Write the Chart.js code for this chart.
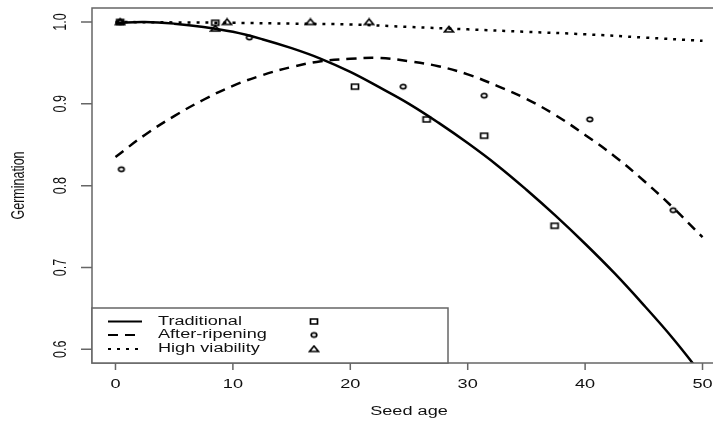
<!DOCTYPE html>
<html lang="en">
<head>
    <meta charset="UTF-8">
    <title>Germination vs seed age</title>
    <script src="https://cdn.jsdelivr.net/npm/chart.js"></script>
    <style>
        html, body {
            margin: 0;
            padding: 0;
            background: #ffffff;
            overflow: hidden;
        }
        #wrap {
            width: 740px;
            height: 421px;
        }
    </style>
</head>
<body>
    <div id="wrap"><canvas id="germChart" width="740" height="421"></canvas></div>

    <script>
        // fitted curves
        var curveAge = [0, 2.5, 5, 7.5, 10, 12.5, 15, 17.5, 20, 22.5, 25, 27.5, 30, 32.5, 35, 37.5, 40, 42.5, 45, 47.5, 50];
        var traditionalFit = [0.999, 1.000, 0.998, 0.994, 0.988, 0.979, 0.968, 0.955, 0.939, 0.920, 0.900, 0.877, 0.852, 0.825, 0.795, 0.763, 0.729, 0.693, 0.654, 0.613, 0.568];
        var afterRipeningFit = [0.835, 0.862, 0.885, 0.905, 0.922, 0.935, 0.945, 0.952, 0.955, 0.956, 0.952, 0.946, 0.936, 0.922, 0.906, 0.886, 0.862, 0.836, 0.806, 0.773, 0.737];
        var viabilityAge = [0, 5, 10, 15, 20, 25, 30, 35, 40, 45, 50];
        var highViabilityFit = [1.000, 0.9995, 0.999, 0.998, 0.997, 0.994, 0.991, 0.988, 0.985, 0.981, 0.977];

        // observed points
        var traditionalAge = [0.4, 8.5, 20.4, 26.5, 31.4, 37.4];
        var traditionalGerm = [1.000, 0.999, 0.921, 0.881, 0.861, 0.751];
        var afterRipeningAge = [0.4, 0.5, 11.4, 24.5, 31.4, 40.4, 47.5];
        var afterRipeningGerm = [1.000, 0.820, 0.981, 0.921, 0.910, 0.881, 0.770];
        var highViabilityAge = [0.4, 8.5, 9.5, 16.6, 21.6, 28.4];
        var highViabilityGerm = [1.000, 0.992, 1.000, 1.000, 1.000, 0.991];

        var xTicks = [0, 10, 20, 30, 40, 50];
        var yTicks = [0.6, 0.7, 0.8, 0.9, 1.0];
        var seriesNames = ['Traditional', 'After-ripening', 'High viability'];

        var textFont = '12.5px "Liberation Sans", Arial, sans-serif';
        var stretch = 1.45;

        function toPoints(xs, ys) {
            return xs.map(function (x, i) { return { x: x, y: ys[i] }; });
        }

        // small marker images, a bit wider than tall like the original
        function makeMarker(kind) {
            var c = document.createElement('canvas');
            c.width = 12;
            c.height = 9;
            var g = c.getContext('2d');
            g.strokeStyle = '#000';
            g.lineWidth = 1.7;
            g.beginPath();
            if (kind === 'square') {
                g.rect(2.5, 2, 7, 5);
            } else if (kind === 'circle') {
                g.ellipse(6, 4.5, 2.8, 2.2, 0, 0, Math.PI * 2);
            } else {
                g.moveTo(6, 1.5);
                g.lineTo(10.5, 7);
                g.lineTo(1.5, 7);
                g.closePath();
            }
            g.stroke();
            return c;
        }
        var markers = [makeMarker('square'), makeMarker('circle'), makeMarker('triangle')];
        var dashes = [[], [10, 7], [3, 6]];

        function lineSet(xs, ys, dash) {
            return {
                data: toPoints(xs, ys),
                showLine: true,
                borderColor: '#000',
                borderWidth: 2.5,
                borderDash: dash,
                pointRadius: 0,
                tension: 0.4,
                fill: false
            };
        }

        function pointSet(xs, ys, img) {
            return {
                data: toPoints(xs, ys),
                showLine: false,
                pointStyle: img,
                pointRadius: 5,
                borderColor: '#000',
                backgroundColor: '#000'
            };
        }

        function drawText(ctx, str, x, y, align, rotated) {
            ctx.save();
            ctx.translate(x, y);
            ctx.scale(stretch, 1);
            if (rotated) ctx.rotate(-Math.PI / 2);
            ctx.font = textFont;
            ctx.fillStyle = '#111';
            ctx.textAlign = align;
            ctx.textBaseline = 'middle';
            ctx.fillText(str, 0, 0);
            ctx.restore();
        }

        // box, ticks, labels and legend drawn R style
        var framePlugin = {
            id: 'frame',
            afterDraw: function (chart) {
                var ctx = chart.ctx;
                var a = chart.chartArea;
                var xs = chart.scales.x;
                var ys = chart.scales.y;

                ctx.save();
                ctx.strokeStyle = '#666';
                ctx.lineWidth = 1.5;
                ctx.strokeRect(a.left, a.top, a.right - a.left, a.bottom - a.top);

                ctx.beginPath();
                xTicks.forEach(function (t) {
                    var px = xs.getPixelForValue(t);
                    ctx.moveTo(px, a.bottom);
                    ctx.lineTo(px, a.bottom + 7);
                });
                yTicks.forEach(function (t) {
                    var py = ys.getPixelForValue(t);
                    ctx.moveTo(a.left, py);
                    ctx.lineTo(a.left - 11, py);
                });
                ctx.stroke();
                ctx.restore();

                xTicks.forEach(function (t) {
                    drawText(ctx, String(t), xs.getPixelForValue(t), a.bottom + 22, 'center', false);
                });
                yTicks.forEach(function (t) {
                    drawText(ctx, t.toFixed(1), a.left - 31, ys.getPixelForValue(t), 'center', true);
                });
                drawText(ctx, 'Seed age', (a.left + a.right) / 2, a.bottom + 49, 'center', false);
                drawText(ctx, 'Germination', 19, (a.top + a.bottom) / 2, 'center', true);

                // legend
                var boxLeft = a.left, boxRight = 448, boxTop = 308, boxBottom = a.bottom;
                ctx.save();
                ctx.fillStyle = '#fff';
                ctx.fillRect(boxLeft, boxTop, boxRight - boxLeft, boxBottom - boxTop);
                ctx.strokeStyle = '#666';
                ctx.lineWidth = 1.5;
                ctx.strokeRect(boxLeft, boxTop, boxRight - boxLeft, boxBottom - boxTop);
                ctx.restore();

                var rowY = [321.5, 335, 349];
                seriesNames.forEach(function (name, i) {
                    ctx.save();
                    ctx.strokeStyle = '#000';
                    ctx.lineWidth = 2;
                    ctx.setLineDash(dashes[i]);
                    ctx.beginPath();
                    ctx.moveTo(108, rowY[i]);
                    ctx.lineTo(142, rowY[i]);
                    ctx.stroke();
                    ctx.restore();
                    drawText(ctx, name, 158, rowY[i], 'left', false);
                    ctx.drawImage(markers[i], 314 - 6, rowY[i] - 4.5);
                });
            }
        };

        var germData = {
            datasets: [
                lineSet(curveAge, traditionalFit, dashes[0]),
                lineSet(curveAge, afterRipeningFit, dashes[1]),
                lineSet(viabilityAge, highViabilityFit, dashes[2]),
                pointSet(traditionalAge, traditionalGerm, markers[0]),
                pointSet(afterRipeningAge, afterRipeningGerm, markers[1]),
                pointSet(highViabilityAge, highViabilityGerm, markers[2])
            ]
        };

        var germConfig = {
            type: 'scatter',
            data: germData,
            options: {
                responsive: false,
                animation: false,
                events: [],
                layout: {
                    padding: { left: 92, right: 14, top: 8, bottom: 58 }
                },
                plugins: {
                    legend: { display: false },
                    tooltip: { enabled: false }
                },
                scales: {
                    x: { type: 'linear', min: -2, max: 52, display: false },
                    y: { type: 'linear', min: 0.5833, max: 1.0171, display: false }
                }
            },
            plugins: [framePlugin]
        };

        var germCtx = document.getElementById('germChart').getContext('2d');
        var germChart = new Chart(germCtx, germConfig);
    </script>
</body>
</html>
